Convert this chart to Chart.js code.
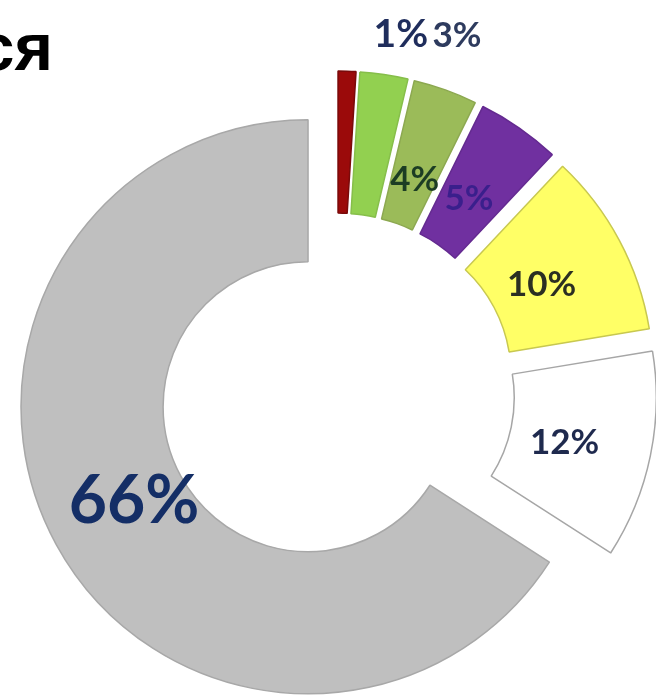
<!DOCTYPE html>
<html><head><meta charset="utf-8">
<script src="https://cdn.jsdelivr.net/npm/chart.js@4/dist/chart.umd.min.js"></script>
<style>html,body{margin:0;padding:0;background:#fff;overflow:hidden}canvas{display:block}</style>
</head><body>
<canvas id="c" width="656" height="695"></canvas>
<script>
// ---- data ----
const titleText = 'ся';
const categories = ['Сегмент 1', 'Сегмент 2', 'Сегмент 3', 'Сегмент 4', 'Сегмент 5', 'Сегмент 6', 'Сегмент 7'];
const shares = [1.0, 2.7, 3.6, 4.7, 10.4, 11.7, 65.9];
const pctLabels = ['1%', '3%', '4%', '5%', '10%', '12%', '66%'];

// ---- styles ----
const sliceColors = ['#9B0A0A', '#92D050', '#9BBB59', '#7030A0', '#FFFF66', '#FFFFFF', '#BFBFBF'];
const sliceBorders = ['#7A0A0A', '#86BE4A', '#8CA850', '#642A90', '#C8C850', '#A6A6A6', '#A8A8A8'];
const explodePx = [33, 33, 33, 33, 33, 33, 33];
const labelAngleFrac = [3.05, 1.65, 0.54, 0.48, 0.52, 0.53, 0.50];
const labelRadiusFrac = [1.30, 1.39, 0.33, 0.39, 0.37, 0.39, 0.375];
const labelColors = ['#1F2D5C', '#2E3B5E', '#1C3D24', '#3A1F8C', '#2B2F22', '#1F2A4E', '#142E66'];
const labelSizes = [39, 35, 35, 35, 35, 35, 66];

const BaseDoughnut = Chart.DoughnutController || Chart.registry.getController('doughnut');
class ExplodedDoughnutController extends BaseDoughnut {
  draw() {
    const chart = this.chart;
    const ctx = chart.ctx;
    const area = chart.chartArea;
    const arcs = this._cachedMeta.data;
    arcs.forEach((arc, i) => {
      const d = explodePx[i] || 0;
      const mid = (arc.startAngle + arc.endAngle) / 2;
      ctx.save();
      ctx.translate(Math.cos(mid) * d, Math.sin(mid) * d);
      arc.draw(ctx, area);
      ctx.restore();
    });
  }
}
ExplodedDoughnutController.id = 'explodedDoughnut';
ExplodedDoughnutController.defaults = BaseDoughnut.defaults;
ExplodedDoughnutController.overrides = BaseDoughnut.overrides;
Chart.register(ExplodedDoughnutController);

const labelPlugin = {
  id: 'pctLabels',
  afterDatasetsDraw(chart) {
    const ctx = chart.ctx;
    const arcs = chart.getDatasetMeta(0).data;
    arcs.forEach((arc, i) => {
      const p = arc.getProps(['x', 'y', 'startAngle', 'endAngle', 'innerRadius', 'outerRadius'], true);
      const mid = (p.startAngle + p.endAngle) / 2;
      const d = explodePx[i] || 0;
      const a = p.startAngle + labelAngleFrac[i] * (p.endAngle - p.startAngle);
      const r = p.innerRadius + labelRadiusFrac[i] * (p.outerRadius - p.innerRadius);
      const px = p.x + Math.cos(mid) * d + Math.cos(a) * r;
      const py = p.y + Math.sin(mid) * d + Math.sin(a) * r;
      ctx.save();
      ctx.font = 'bold ' + labelSizes[i] + 'px Lato, "Open Sans", sans-serif';
      ctx.fillStyle = labelColors[i];
      ctx.textAlign = 'center';
      ctx.textBaseline = 'middle';
      ctx.fillText(pctLabels[i], px, py);
      ctx.restore();
    });
  }
};

const titlePlugin = {
  id: 'croppedTitle',
  afterDraw(chart) {
    const ctx = chart.ctx;
    ctx.save();
    ctx.font = 'bold 66px "Liberation Sans", Arial, sans-serif';
    ctx.fillStyle = '#000';
    ctx.textAlign = 'right';
    ctx.textBaseline = 'alphabetic';
    ctx.fillText(titleText, 53, 70);
    ctx.restore();
  }
};

new Chart(document.getElementById('c'), {
  type: 'explodedDoughnut',
  data: {
    labels: categories,
    datasets: [{
      data: shares,
      backgroundColor: sliceColors,
      borderColor: sliceBorders,
      borderWidth: 1.5
    }]
  },
  options: {
    responsive: false,
    animation: false,
    devicePixelRatio: 1,
    radius: 287,
    cutout: '50.5%',
    layout: { padding: { left: 18, top: 87, right: 0, bottom: 0 } },
    events: [],
    plugins: { legend: { display: false }, tooltip: { enabled: false }, title: { display: false } }
  },
  plugins: [labelPlugin, titlePlugin]
});
</script>
</body></html>
